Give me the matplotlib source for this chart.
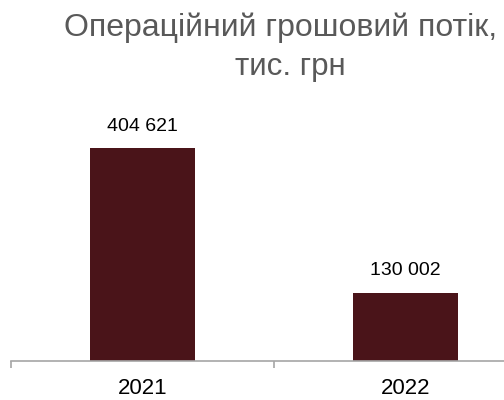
import matplotlib.pyplot as plt

plt.rcParams['font.family'] = ['Liberation Sans', 'DejaVu Sans']

years = ['2021', '2022']
cash_flow = [404621, 130002]
value_labels = ['404 621', '130 002']
title_lines = ['Операційний грошовий потік,', 'тис. грн']

fig = plt.figure(figsize=(5.04, 4.0), dpi=100)
# axes runs past the right edge, as in the reference
ax = fig.add_axes([11 / 504, 39 / 400, 526 / 504, 263 / 400])

x = range(len(years))
ax.bar(x, cash_flow, width=0.4, color='#4A1419')

for xi, v, lab in zip(x, cash_flow, value_labels):
    ax.annotate(lab, (xi, v), xytext=(0, 9.5), textcoords='offset points',
                ha='center', va='bottom', fontsize=14, color='#000000')

ax.set_xlim(-0.5, 1.5)
ax.set_ylim(0, 500000)

# ticks at category boundaries, labels at centres
ax.set_xticks([-0.5, 0.5, 1.5])
ax.set_xticklabels([])
ax.set_xticks(list(x), minor=True)
ax.set_xticklabels(years, minor=True, fontsize=16)
ax.tick_params(axis='x', which='major', direction='out', length=5,
               width=1.2, color='#A6A6A6')
ax.tick_params(axis='x', which='minor', length=0, pad=12)

ax.set_yticks([])
for s in ['top', 'right', 'left']:
    ax.spines[s].set_visible(False)
ax.spines['bottom'].set_color('#A6A6A6')
ax.spines['bottom'].set_linewidth(1.2)

# title, two lines placed separately
fig.text(281 / 504, 1 - 36 / 400, title_lines[0], ha='center', va='baseline',
         fontsize=23, color='#595959')
fig.text(290 / 504, 1 - 75 / 400, title_lines[1], ha='center', va='baseline',
         fontsize=22.5, color='#595959')

fig.savefig('out.png', dpi=100)
